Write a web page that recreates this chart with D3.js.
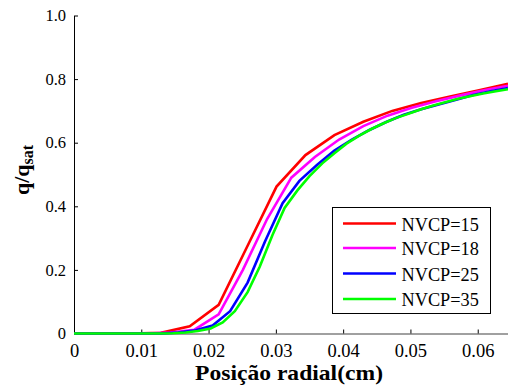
<!DOCTYPE html>
<html>
<head>
<meta charset="utf-8">
<script src="https://cdn.jsdelivr.net/npm/d3@7"></script>
</head>
<body style="margin:0; background:#fff">
<div id="chart"></div>
<script>
// données
const seriesNames = ["NVCP=15", "NVCP=18", "NVCP=25", "NVCP=35"];
const seriesColors = ["#ff0000", "#ff00ff", "#0000ff", "#00ff00"];

const x15 = [0, 0.0043, 0.0086, 0.0129, 0.0172, 0.0215, 0.0258, 0.0301, 0.0344, 0.0387, 0.043, 0.0473, 0.0516, 0.0559, 0.0602, 0.0645];
const y15 = [0, 0, 0, 0.002, 0.023, 0.09, 0.276, 0.462, 0.561, 0.624, 0.666, 0.700, 0.725, 0.745, 0.765, 0.785];

const x18 = [0, 0.0036, 0.0072, 0.0108, 0.0143, 0.0179, 0.0215, 0.0251, 0.0287, 0.0323, 0.0358, 0.0394, 0.043, 0.0466, 0.0502, 0.0538, 0.0573, 0.0609, 0.0645];
const y18 = [0, 0, 0, 0, 0.003, 0.012, 0.06, 0.20, 0.36, 0.49, 0.555, 0.61, 0.652, 0.685, 0.71, 0.73, 0.748, 0.765, 0.779];

const x25 = [0, 0.0026, 0.0052, 0.0077, 0.0103, 0.0129, 0.0155, 0.0181, 0.0206, 0.0232, 0.0258, 0.0284, 0.031, 0.0335, 0.0361, 0.0387, 0.0413, 0.0439, 0.0464, 0.049, 0.0516, 0.0542, 0.0568, 0.0593, 0.0619, 0.0645];
const y25 = [0, 0, 0, 0, 0, 0, 0.003, 0.01, 0.025, 0.07, 0.16, 0.29, 0.41, 0.48, 0.53, 0.575, 0.61, 0.64, 0.665, 0.688, 0.705, 0.72, 0.735, 0.75, 0.762, 0.772];

const x35 = [0, 0.0018, 0.0037, 0.0055, 0.0074, 0.0092, 0.011, 0.0129, 0.0147, 0.0166, 0.0184, 0.0203, 0.0221, 0.0239, 0.0258, 0.0276, 0.0295, 0.0313, 0.0332, 0.035, 0.0369, 0.0387, 0.0405, 0.0424, 0.0442, 0.0461, 0.0479, 0.0498, 0.0516, 0.0534, 0.0553, 0.0571, 0.059, 0.0608, 0.0627, 0.0645];
const y35 = [0, 0, 0, 0, 0, 0, 0, 0, 0.001, 0.003, 0.008, 0.016, 0.035, 0.07, 0.13, 0.21, 0.31, 0.395, 0.45, 0.495, 0.535, 0.567, 0.597, 0.622, 0.643, 0.662, 0.678, 0.692, 0.705, 0.717, 0.728, 0.738, 0.747, 0.755, 0.762, 0.768];

const seriesX = [x15, x18, x25, x35];
const seriesY = [y15, y18, y25, y35];

const xTicks = [0, 0.01, 0.02, 0.03, 0.04, 0.05, 0.06];
const xTickLabels = ["0", "0.01", "0.02", "0.03", "0.04", "0.05", "0.06"];
const yTicks = [0, 0.2, 0.4, 0.6, 0.8, 1.0];
const yTickLabels = ["0", "0.2", "0.4", "0.6", "0.8", "1.0"];

const FONT = "Liberation Serif";
const width = 508, height = 387;
const margin = { left: 74, top: 15.5, right: 0, bottom: 53.5 };

const svg = d3.select("#chart").append("svg")
    .attr("width", width)
    .attr("height", height);

const x = d3.scaleLinear().domain([0, 0.0645]).range([margin.left, width - margin.right]);
const y = d3.scaleLinear().domain([0, 1]).range([height - margin.bottom, margin.top]);

// axe x (ligne grise, graduations vers le haut)
const xAxis = svg.append("g")
    .attr("transform", `translate(0,${y(0)})`)
    .call(d3.axisBottom(x).tickValues(xTicks).tickFormat((d, i) => xTickLabels[i]).tickSize(0).tickPadding(10));
xAxis.select(".domain").attr("stroke", "#808080").attr("stroke-width", 1.5);
xAxis.selectAll(".tick").append("line")
    .attr("y1", 0).attr("y2", -4)
    .attr("stroke", "#000");
xAxis.selectAll("g.tick text")
    .attr("font-family", FONT)
    .attr("font-size", 18.5)
    .attr("fill", "#000");

// axe y
const yAxis = svg.append("g")
    .attr("transform", `translate(${margin.left},0)`)
    .call(d3.axisLeft(y).tickValues(yTicks).tickFormat((d, i) => yTickLabels[i]).tickSize(0).tickPadding(8));
yAxis.select(".domain").attr("stroke", "#000").attr("stroke-width", 1);
yAxis.selectAll(".tick").append("line")
    .attr("x1", 0).attr("x2", 4)
    .attr("stroke", "#000");
yAxis.selectAll("g.tick text")
    .attr("font-family", FONT)
    .attr("font-size", 16.5)
    .attr("fill", "#000");

// courbes
const line = d3.line().x(d => x(d[0])).y(d => y(d[1]));
seriesNames.forEach((name, i) => {
    const pts = seriesX[i].map((v, k) => [v, seriesY[i][k]]);
    svg.append("path")
        .datum(pts)
        .attr("fill", "none")
        .attr("stroke", seriesColors[i])
        .attr("stroke-width", 2.6)
        .attr("stroke-linejoin", "miter")
        .attr("d", line);
});

// titres des axes
svg.append("text")
    .attr("x", 289)
    .attr("y", 380)
    .attr("text-anchor", "middle")
    .attr("font-family", FONT)
    .attr("font-size", 22)
    .attr("font-weight", "bold")
    .attr("textLength", 188)
    .attr("lengthAdjust", "spacingAndGlyphs")
    .text("Posição radial(cm)");

const yl = svg.append("text")
    .attr("transform", `translate(29,170) rotate(-90)`)
    .attr("text-anchor", "middle")
    .attr("font-family", FONT)
    .attr("font-size", 22)
    .attr("font-weight", "bold");
yl.append("tspan").text("q/q");
yl.append("tspan").attr("font-size", 16).attr("dy", 4).text("sat");

// légende
const legend = svg.append("g");
legend.append("rect")
    .attr("x", 332.5).attr("y", 207.5)
    .attr("width", 158).attr("height", 106)
    .attr("fill", "#fff")
    .attr("stroke", "#000")
    .attr("stroke-width", 1);
const rowY = [223.5, 248, 273.5, 299];
seriesNames.forEach((name, i) => {
    legend.append("line")
        .attr("x1", 343).attr("x2", 396)
        .attr("y1", rowY[i]).attr("y2", rowY[i])
        .attr("stroke", seriesColors[i])
        .attr("stroke-width", 2.6);
    legend.append("text")
        .attr("x", 401.5)
        .attr("y", rowY[i] + 7)
        .attr("font-family", FONT)
        .attr("font-size", 18.3)
        .text(name);
});
</script>
</body>
</html>
